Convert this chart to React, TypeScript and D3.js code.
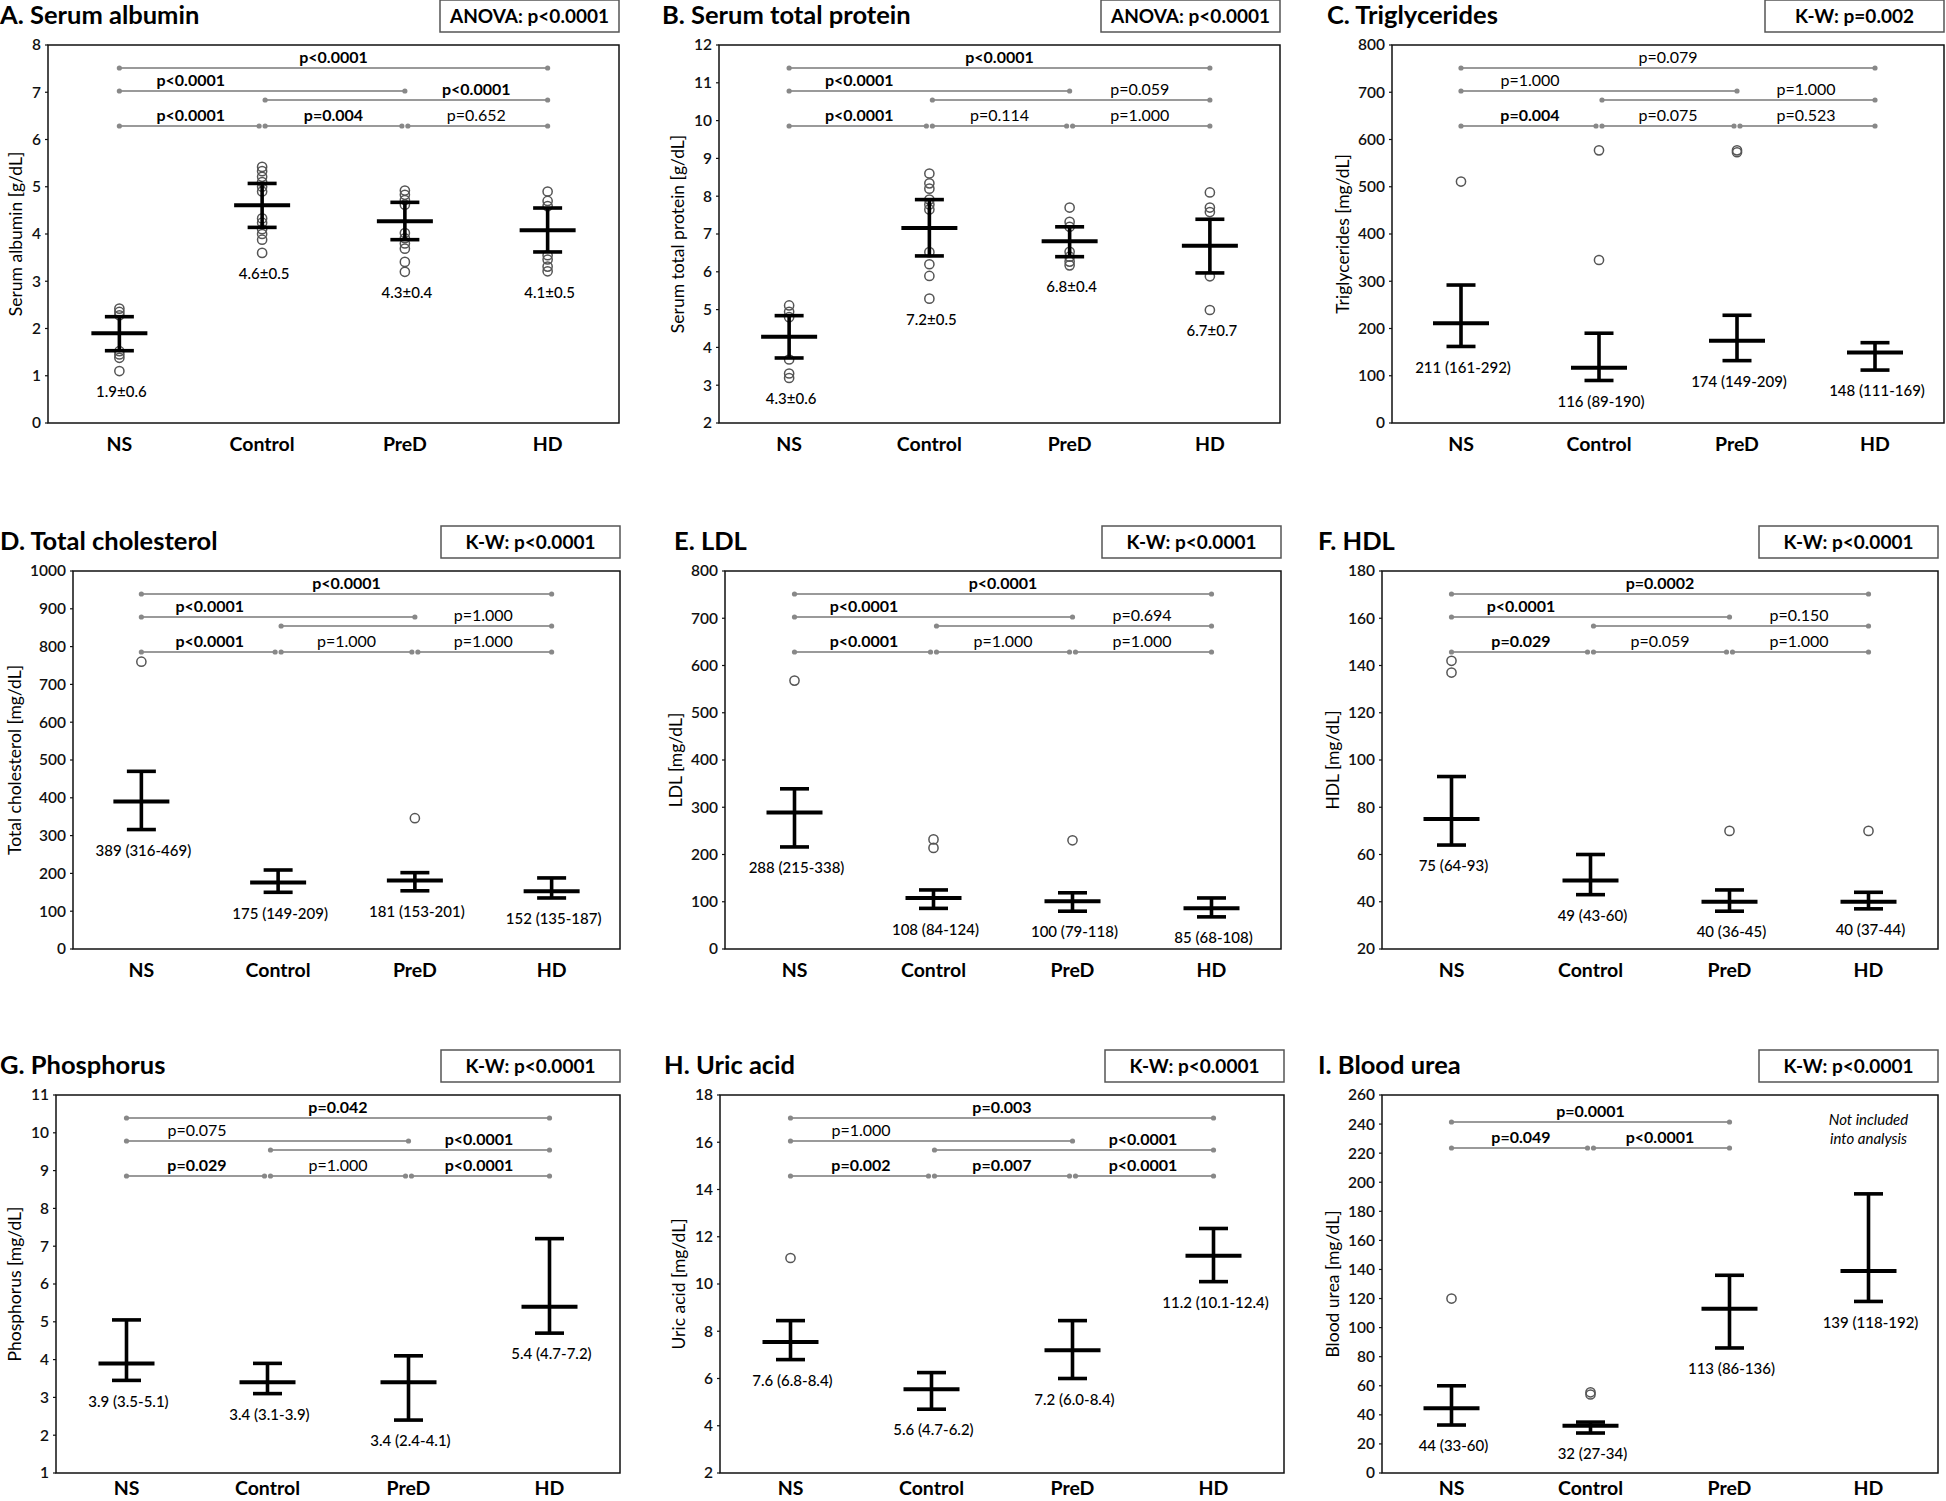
import React from 'react';
import * as d3 from 'd3';

const groups = ['NS', 'Control', 'PreD', 'HD'];

// A. Serum albumin (mean, error bar ends, individual values)
const albuminMean = [1.9, 4.61, 4.27, 4.08];
const albuminLo = [1.53, 4.14, 3.88, 3.62];
const albuminHi = [2.25, 5.07, 4.67, 4.55];
const albuminPoints = [
  [2.42, 2.35, 2.28, 1.52, 1.45, 1.38, 1.1],
  [5.42, 5.33, 5.21, 5.1, 5.0, 4.9, 4.33, 4.24, 4.1, 4.0, 3.88, 3.6],
  [4.92, 4.83, 4.72, 4.62, 4.02, 3.91, 3.8, 3.69, 3.41, 3.2],
  [4.9, 4.7, 4.59, 3.55, 3.46, 3.31, 3.21],
];
const albuminText = ['1.9±0.6', '4.6±0.5', '4.3±0.4', '4.1±0.5'];
const albuminP = ['p<0.0001', 'p=0.004', 'p=0.652', 'p<0.0001', 'p<0.0001', 'p<0.0001'];

// B. Serum total protein
const proteinMean = [4.28, 7.16, 6.81, 6.69];
const proteinLo = [3.72, 6.42, 6.4, 5.97];
const proteinHi = [4.84, 7.91, 7.19, 7.39];
const proteinPoints = [
  [5.11, 4.94, 4.8, 3.68, 3.31, 3.19],
  [8.6, 8.34, 8.2, 7.91, 7.78, 7.65, 6.52, 6.2, 5.89, 5.29],
  [7.7, 7.32, 7.19, 6.53, 6.4, 6.27, 6.17],
  [8.1, 7.7, 7.58, 5.88, 4.99],
];
const proteinText = ['4.3±0.6', '7.2±0.5', '6.8±0.4', '6.7±0.7'];
const proteinP = ['p<0.0001', 'p=0.114', 'p=1.000', 'p=0.059', 'p<0.0001', 'p<0.0001'];

// C. Triglycerides (median, IQR bar, outliers)
const trigMid = [211, 117, 174, 149];
const trigLo = [162, 90, 132, 112];
const trigHi = [292, 190, 228, 170];
const trigOutliers = [[511], [577, 345], [573, 577], []];
const trigText = ['211 (161-292)', '116 (89-190)', '174 (149-209)', '148 (111-169)'];
const trigP = ['p=0.004', 'p=0.075', 'p=0.523', 'p=1.000', 'p=1.000', 'p=0.079'];

// D. Total cholesterol
const cholMid = [390, 176, 181, 153];
const cholLo = [316, 150, 154, 135];
const cholHi = [470, 209, 202, 188];
const cholOutliers = [[760], [], [346], []];
const cholText = ['389 (316-469)', '175 (149-209)', '181 (153-201)', '152 (135-187)'];
const cholP = ['p<0.0001', 'p=1.000', 'p=1.000', 'p=1.000', 'p<0.0001', 'p<0.0001'];

// E. LDL
const ldlMid = [289, 108, 101, 86];
const ldlLo = [216, 86, 80, 68];
const ldlHi = [339, 125, 119, 108];
const ldlOutliers = [[568], [232, 214], [230], []];
const ldlText = ['288 (215-338)', '108 (84-124)', '100 (79-118)', '85 (68-108)'];
const ldlP = ['p<0.0001', 'p=1.000', 'p=1.000', 'p=0.694', 'p<0.0001', 'p<0.0001'];

// F. HDL
const hdlMid = [75, 49, 40, 40];
const hdlLo = [64, 43, 36, 37];
const hdlHi = [93, 60, 45, 44];
const hdlOutliers = [[142, 137], [], [70], [70]];
const hdlText = ['75 (64-93)', '49 (43-60)', '40 (36-45)', '40 (37-44)'];
const hdlP = ['p=0.029', 'p=0.059', 'p=1.000', 'p=0.150', 'p<0.0001', 'p=0.0002'];

// G. Phosphorus
const phosMid = [3.9, 3.4, 3.4, 5.4];
const phosLo = [3.45, 3.1, 2.4, 4.7];
const phosHi = [5.05, 3.9, 4.1, 7.2];
const phosText = ['3.9 (3.5-5.1)', '3.4 (3.1-3.9)', '3.4 (2.4-4.1)', '5.4 (4.7-7.2)'];
const phosP = ['p=0.029', 'p=1.000', 'p<0.0001', 'p<0.0001', 'p=0.075', 'p=0.042'];

// H. Uric acid
const uricMid = [7.55, 5.55, 7.2, 11.2];
const uricLo = [6.8, 4.7, 6.0, 10.1];
const uricHi = [8.45, 6.25, 8.45, 12.35];
const uricOutliers = [[11.1], [], [], []];
const uricText = ['7.6 (6.8-8.4)', '5.6 (4.7-6.2)', '7.2 (6.0-8.4)', '11.2 (10.1-12.4)'];
const uricP = ['p=0.002', 'p=0.007', 'p<0.0001', 'p<0.0001', 'p=1.000', 'p=0.003'];

// I. Blood urea (HD not compared)
const ureaMid = [44.5, 32.5, 113, 139];
const ureaLo = [33, 27.5, 86, 118];
const ureaHi = [60, 35, 136, 192];
const ureaOutliers = [[120], [54, 55.5], [], []];
const ureaText = ['44 (33-60)', '32 (27-34)', '113 (86-136)', '139 (118-192)'];
const ureaP = ['p=0.049', 'p<0.0001', 'p=0.0001'];

// comparison pairs: [from, to, level]; label anchor pair for x position
const fullPairs = [
  { a: 0, b: 1, level: 0, la: 0, lb: 1 },
  { a: 1, b: 2, level: 0, la: 1, lb: 2 },
  { a: 2, b: 3, level: 0, la: 2, lb: 3 },
  { a: 1, b: 3, level: 1, la: 2, lb: 3 },
  { a: 0, b: 2, level: 2, la: 0, lb: 1 },
  { a: 0, b: 3, level: 3, la: 0, lb: 3 },
];
const ureaPairs = [
  { a: 0, b: 1, level: 0, la: 0, lb: 1 },
  { a: 1, b: 2, level: 0, la: 1, lb: 2 },
  { a: 0, b: 2, level: 1, la: 0, lb: 2 },
];

const panels = [
  { title: 'A. Serum albumin', test: 'ANOVA: p<0.0001', yLabel: 'Serum albumin [g/dL]', domain: [0, 8], step: 1, mid: albuminMean, lo: albuminLo, hi: albuminHi, points: albuminPoints, text: albuminText, p: albuminP, pairs: fullPairs },
  { title: 'B. Serum total protein', test: 'ANOVA: p<0.0001', yLabel: 'Serum total protein [g/dL]', domain: [2, 12], step: 1, mid: proteinMean, lo: proteinLo, hi: proteinHi, points: proteinPoints, text: proteinText, p: proteinP, pairs: fullPairs },
  { title: 'C. Triglycerides', test: 'K-W: p=0.002', yLabel: 'Triglycerides [mg/dL]', domain: [0, 800], step: 100, mid: trigMid, lo: trigLo, hi: trigHi, points: trigOutliers, text: trigText, p: trigP, pairs: fullPairs },
  { title: 'D. Total cholesterol', test: 'K-W: p<0.0001', yLabel: 'Total cholesterol [mg/dL]', domain: [0, 1000], step: 100, mid: cholMid, lo: cholLo, hi: cholHi, points: cholOutliers, text: cholText, p: cholP, pairs: fullPairs },
  { title: 'E. LDL', test: 'K-W: p<0.0001', yLabel: 'LDL [mg/dL]', domain: [0, 800], step: 100, mid: ldlMid, lo: ldlLo, hi: ldlHi, points: ldlOutliers, text: ldlText, p: ldlP, pairs: fullPairs },
  { title: 'F. HDL', test: 'K-W: p<0.0001', yLabel: 'HDL [mg/dL]', domain: [20, 180], step: 20, mid: hdlMid, lo: hdlLo, hi: hdlHi, points: hdlOutliers, text: hdlText, p: hdlP, pairs: fullPairs },
  { title: 'G. Phosphorus', test: 'K-W: p<0.0001', yLabel: 'Phosphorus [mg/dL]', domain: [1, 11], step: 1, mid: phosMid, lo: phosLo, hi: phosHi, points: [[], [], [], []], text: phosText, p: phosP, pairs: fullPairs },
  { title: 'H. Uric acid', test: 'K-W: p<0.0001', yLabel: 'Uric acid [mg/dL]', domain: [2, 18], step: 2, mid: uricMid, lo: uricLo, hi: uricHi, points: uricOutliers, text: uricText, p: uricP, pairs: fullPairs },
  { title: 'I. Blood urea', test: 'K-W: p<0.0001', yLabel: 'Blood urea [mg/dL]', domain: [0, 260], step: 20, mid: ureaMid, lo: ureaLo, hi: ureaHi, points: ureaOutliers, text: ureaText, p: ureaP, pairs: ureaPairs, note: ['Not included', 'into analysis'] },
];

// layout (pixels)
const W = 1946;
const H = 1501;
const rowTops = [45, 571, 1095];
const plotH = 378;
const layouts = [
  { left: 48, right: 619, titleX: 0 },
  { left: 719, right: 1280, titleX: 662 },
  { left: 1392, right: 1944, titleX: 1327 },
  { left: 73, right: 620, titleX: 0 },
  { left: 725, right: 1281, titleX: 674 },
  { left: 1382, right: 1938, titleX: 1318 },
  { left: 56, right: 620, titleX: 0 },
  { left: 720, right: 1284, titleX: 664 },
  { left: 1382, right: 1938, titleX: 1318 },
];
const levelOffsets = [81, 55, 46, 23];
const ureaLevelOffsets = [53, 27];

const FONT = "Lato, 'Open Sans', 'DejaVu Sans', sans-serif";

const isSig = (s: string) => s.includes('<') || parseFloat(s.split('=')[1]) < 0.05;

const Panel = ({ spec, layout, top }: any) => {
  const bottom = top + plotH;
  const x = d3.scaleBand().domain(groups).range([layout.left, layout.right]);
  const cx = (i: number) => (x(groups[i]) as number) + x.bandwidth() / 2;
  const y = d3.scaleLinear().domain(spec.domain).range([bottom, top]);
  const ticks = d3.range(spec.domain[0], spec.domain[1] + spec.step / 2, spec.step);
  const digits = d3.max(ticks, (t) => String(t).length) as number;
  const offsets = spec.pairs.length === 3 ? ureaLevelOffsets : levelOffsets;
  const adjacent = spec.pairs.filter((p: any) => p.level === 0);
  const catY = Math.min(bottom + 28, H - 6);

  return (
    <g fontFamily={FONT}>
      <text x={layout.titleX} y={top - 21} fontSize={25.5} fontWeight="bold">{spec.title}</text>
      <rect x={layout.right - 179} y={top - 45} width={179} height={32} fill="#fff" stroke="#555" strokeWidth={1.5} />
      <text x={layout.right - 89.5} y={top - 22} fontSize={19} fontWeight="bold" textAnchor="middle">{spec.test}</text>

      {/* frame */}
      <rect x={layout.left} y={top} width={layout.right - layout.left} height={plotH} fill="none" stroke="#111" strokeWidth={1.5} />

      {/* y axis ticks */}
      {ticks.map((t: number) => (
        <g key={t}>
          <line x1={layout.left - 3} x2={layout.left} y1={y(t)} y2={y(t)} stroke="#111" strokeWidth={1.2} />
          <text x={layout.left - 7} y={y(t)} dy="0.35em" fontSize={15.5} fontWeight={600} textAnchor="end" fill="#111">{t}</text>
        </g>
      ))}
      <text
        transform={`translate(${layout.left - 24 - 8.5 * digits},${(top + bottom) / 2}) rotate(-90)`}
        fontSize={17.5}
        textAnchor="middle"
        dy="0.35em"
      >{spec.yLabel}</text>

      {/* x labels */}
      {groups.map((g, i) => (
        <text key={g} x={cx(i)} y={catY} fontSize={19.5} fontWeight="bold" textAnchor="middle">{g}</text>
      ))}

      {/* comparison brackets */}
      {spec.pairs.map((pr: any, k: number) => {
        const ly = top + offsets[pr.level];
        const startIn = adjacent.some((q: any) => q !== pr && q.b === pr.a) || pr.level === 1 && spec.pairs.length === 6;
        const endIn = pr.level === 0 && adjacent.some((q: any) => q !== pr && q.a === pr.b);
        const x1 = cx(pr.a) + (startIn ? 3 : 0);
        const x2 = cx(pr.b) - (endIn ? 3 : 0);
        const lx = (cx(pr.la) + cx(pr.lb)) / 2;
        const label = spec.p[k];
        return (
          <g key={k}>
            <line x1={x1} x2={x2} y1={ly} y2={ly} stroke="#9a9a9a" strokeWidth={1.8} />
            <circle cx={x1} cy={ly} r={2.6} fill="#888" />
            <circle cx={x2} cy={ly} r={2.6} fill="#888" />
            <text x={lx} y={ly - 5} fontSize={16} textAnchor="middle" fontWeight={isSig(label) ? 'bold' : 'normal'}>{label}</text>
          </g>
        );
      })}

      {/* individual values / outliers */}
      {spec.points.map((vals: number[], i: number) =>
        vals.map((v, j) => (
          <circle key={`${i}-${j}`} cx={cx(i)} cy={y(v)} r={4.6} fill="none" stroke="#555" strokeWidth={1.5} />
        ))
      )}

      {/* central value with error bars */}
      {groups.map((g, i) => (
        <g key={g} stroke="#000">
          <line x1={cx(i)} x2={cx(i)} y1={y(spec.hi[i])} y2={y(spec.lo[i])} strokeWidth={3.6} />
          <line x1={cx(i) - 14.5} x2={cx(i) + 14.5} y1={y(spec.hi[i])} y2={y(spec.hi[i])} strokeWidth={3.6} />
          <line x1={cx(i) - 14.5} x2={cx(i) + 14.5} y1={y(spec.lo[i])} y2={y(spec.lo[i])} strokeWidth={3.6} />
          <line x1={cx(i) - 28} x2={cx(i) + 28} y1={y(spec.mid[i])} y2={y(spec.mid[i])} strokeWidth={4} />
        </g>
      ))}

      {/* value labels below the lowest mark */}
      {groups.map((g, i) => {
        const lowest = d3.min([spec.lo[i], ...spec.points[i]]) as number;
        return (
          <text key={g} x={cx(i) + 2} y={y(lowest) + 21} dy="0.35em" fontSize={15} fontWeight={500} textAnchor="middle">{spec.text[i]}</text>
        );
      })}

      {spec.note && spec.note.map((line: string, k: number) => (
        <text key={k} x={cx(3)} y={top + 30 + k * 19} fontSize={15} fontStyle="italic" textAnchor="middle">{line}</text>
      ))}
    </g>
  );
};

export default function App() {
  return (
    <svg width={W} height={H} style={{ position: 'absolute', left: 0, top: 0, background: '#fff' }}>
      {panels.map((spec, i) => (
        <Panel key={spec.title} spec={spec} layout={layouts[i]} top={rowTops[Math.floor(i / 3)]} />
      ))}
    </svg>
  );
}
